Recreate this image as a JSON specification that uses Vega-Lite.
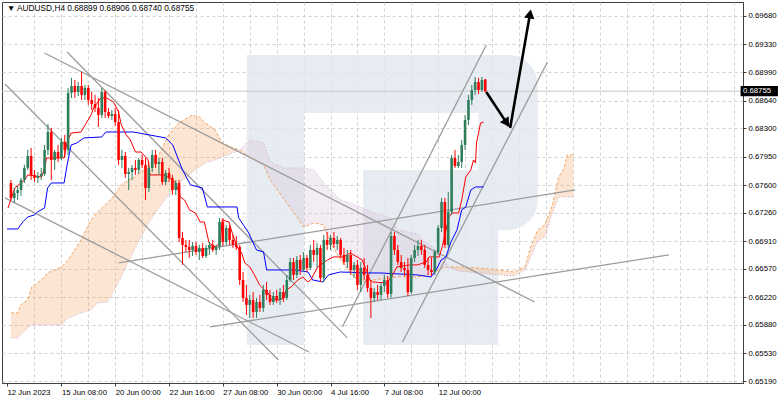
{
"$schema":"https://vega.github.io/schema/vega-lite/v6.json",
"width":741,"height":381,
"autosize":{"type":"none"},
"padding":{"left":2,"top":2,"right":39,"bottom":19},
"background":"white",
"title":{"text":"▼ AUDUSD,H4  0.68899 0.68906 0.68740 0.68755","anchor":"start","frame":"group","orient":"top","offset":-10,"dx":5,"font":"Liberation Sans","fontSize":8.3,"fontWeight":"normal","color":"#000000"},
"datasets":{
"candles":[
{"t":0,"o":0.67626,"h":0.67663,"l":0.67417,"c":0.67442},
{"t":1,"o":0.67442,"h":0.67565,"l":0.6738,"c":0.67503},
{"t":2,"o":0.67503,"h":0.67589,"l":0.67417,"c":0.6754},
{"t":3,"o":0.6754,"h":0.67688,"l":0.67466,"c":0.67663},
{"t":4,"o":0.67663,"h":0.67848,"l":0.67626,"c":0.67811},
{"t":5,"o":0.67811,"h":0.68032,"l":0.67786,"c":0.67958},
{"t":6,"o":0.67958,"h":0.68057,"l":0.67663,"c":0.67725},
{"t":7,"o":0.67725,"h":0.67786,"l":0.67638,"c":0.67688},
{"t":8,"o":0.67688,"h":0.67761,"l":0.67626,"c":0.67712},
{"t":9,"o":0.67712,"h":0.67811,"l":0.67663,"c":0.67737},
{"t":10,"o":0.67737,"h":0.68094,"l":0.67712,"c":0.68032},
{"t":11,"o":0.68032,"h":0.68352,"l":0.67971,"c":0.68253},
{"t":12,"o":0.68253,"h":0.68303,"l":0.67663,"c":0.67909},
{"t":13,"o":0.67909,"h":0.68032,"l":0.67786,"c":0.68007},
{"t":14,"o":0.68007,"h":0.68094,"l":0.67884,"c":0.67934},
{"t":15,"o":0.67934,"h":0.6818,"l":0.67909,"c":0.6813},
{"t":16,"o":0.6813,"h":0.68217,"l":0.67934,"c":0.68032},
{"t":17,"o":0.68032,"h":0.68795,"l":0.67971,"c":0.68733},
{"t":18,"o":0.68733,"h":0.68918,"l":0.68672,"c":0.68819},
{"t":19,"o":0.68819,"h":0.68893,"l":0.68672,"c":0.68745},
{"t":20,"o":0.68745,"h":0.68868,"l":0.68696,"c":0.68819},
{"t":21,"o":0.68819,"h":0.68991,"l":0.68647,"c":0.68709},
{"t":22,"o":0.68709,"h":0.68832,"l":0.68647,"c":0.68795},
{"t":23,"o":0.68795,"h":0.68832,"l":0.68586,"c":0.68647},
{"t":24,"o":0.68647,"h":0.68745,"l":0.68524,"c":0.68598},
{"t":25,"o":0.68598,"h":0.68709,"l":0.68499,"c":0.68549},
{"t":26,"o":0.68549,"h":0.68672,"l":0.68315,"c":0.68463},
{"t":27,"o":0.68463,"h":0.68795,"l":0.68426,"c":0.68745},
{"t":28,"o":0.68745,"h":0.6877,"l":0.68426,"c":0.68499},
{"t":29,"o":0.68499,"h":0.68549,"l":0.68426,"c":0.6845},
{"t":30,"o":0.6845,"h":0.68524,"l":0.68401,"c":0.68475},
{"t":31,"o":0.68475,"h":0.68549,"l":0.68327,"c":0.68376},
{"t":32,"o":0.68376,"h":0.68524,"l":0.67848,"c":0.67909},
{"t":33,"o":0.67909,"h":0.68032,"l":0.67811,"c":0.67958},
{"t":34,"o":0.67958,"h":0.68007,"l":0.67688,"c":0.67737},
{"t":35,"o":0.67737,"h":0.67811,"l":0.6754,"c":0.67761},
{"t":36,"o":0.67761,"h":0.67848,"l":0.67663,"c":0.67811},
{"t":37,"o":0.67811,"h":0.67909,"l":0.67725,"c":0.67786},
{"t":38,"o":0.67786,"h":0.67934,"l":0.67737,"c":0.67909},
{"t":39,"o":0.67909,"h":0.67971,"l":0.67811,"c":0.67848},
{"t":40,"o":0.67848,"h":0.67934,"l":0.67417,"c":0.67565},
{"t":41,"o":0.67565,"h":0.67848,"l":0.67515,"c":0.67811},
{"t":42,"o":0.67811,"h":0.68032,"l":0.67761,"c":0.67971},
{"t":43,"o":0.67971,"h":0.68032,"l":0.67811,"c":0.6786},
{"t":44,"o":0.6786,"h":0.67934,"l":0.67725,"c":0.67884},
{"t":45,"o":0.67884,"h":0.67934,"l":0.67602,"c":0.67638},
{"t":46,"o":0.67638,"h":0.67786,"l":0.67602,"c":0.67749},
{"t":47,"o":0.67749,"h":0.67811,"l":0.67638,"c":0.67688},
{"t":48,"o":0.67688,"h":0.67725,"l":0.67479,"c":0.6754},
{"t":49,"o":0.6754,"h":0.67663,"l":0.67479,"c":0.67626},
{"t":50,"o":0.67626,"h":0.67663,"l":0.669,"c":0.6695},
{"t":51,"o":0.6695,"h":0.67023,"l":0.66618,"c":0.66864},
{"t":52,"o":0.66864,"h":0.66925,"l":0.66777,"c":0.66839},
{"t":53,"o":0.66839,"h":0.66925,"l":0.66704,"c":0.66802},
{"t":54,"o":0.66802,"h":0.669,"l":0.66728,"c":0.66851},
{"t":55,"o":0.66851,"h":0.669,"l":0.66741,"c":0.66777},
{"t":56,"o":0.66777,"h":0.66864,"l":0.66679,"c":0.66827},
{"t":57,"o":0.66827,"h":0.66888,"l":0.66704,"c":0.66728},
{"t":58,"o":0.66728,"h":0.66864,"l":0.66704,"c":0.66827},
{"t":59,"o":0.66827,"h":0.669,"l":0.66741,"c":0.66864},
{"t":60,"o":0.66864,"h":0.66925,"l":0.66777,"c":0.66802},
{"t":61,"o":0.66802,"h":0.66864,"l":0.66741,"c":0.66839},
{"t":62,"o":0.66839,"h":0.67196,"l":0.66802,"c":0.67146},
{"t":63,"o":0.67146,"h":0.67196,"l":0.66851,"c":0.669},
{"t":64,"o":0.669,"h":0.6711,"l":0.66864,"c":0.67073},
{"t":65,"o":0.67073,"h":0.6711,"l":0.66864,"c":0.66925},
{"t":66,"o":0.66925,"h":0.66987,"l":0.66827,"c":0.66864},
{"t":67,"o":0.66864,"h":0.66974,"l":0.66802,"c":0.66839},
{"t":68,"o":0.66839,"h":0.66864,"l":0.66372,"c":0.66433},
{"t":69,"o":0.66433,"h":0.66531,"l":0.66162,"c":0.66212},
{"t":70,"o":0.66212,"h":0.66372,"l":0.66003,"c":0.66126},
{"t":71,"o":0.66126,"h":0.66249,"l":0.65966,"c":0.66187},
{"t":72,"o":0.66187,"h":0.66285,"l":0.65966,"c":0.66039},
{"t":73,"o":0.66039,"h":0.66212,"l":0.65966,"c":0.66162},
{"t":74,"o":0.66162,"h":0.66249,"l":0.66039,"c":0.66089},
{"t":75,"o":0.66089,"h":0.66372,"l":0.66039,"c":0.6631},
{"t":76,"o":0.6631,"h":0.66408,"l":0.66187,"c":0.66249},
{"t":77,"o":0.66249,"h":0.6631,"l":0.66126,"c":0.66162},
{"t":78,"o":0.66162,"h":0.66285,"l":0.66126,"c":0.66236},
{"t":79,"o":0.66236,"h":0.6631,"l":0.6615,"c":0.66187},
{"t":80,"o":0.66187,"h":0.66335,"l":0.66126,"c":0.66285},
{"t":81,"o":0.66285,"h":0.66372,"l":0.66162,"c":0.66212},
{"t":82,"o":0.66212,"h":0.66495,"l":0.66187,"c":0.66433},
{"t":83,"o":0.66433,"h":0.66704,"l":0.66408,"c":0.66654},
{"t":84,"o":0.66654,"h":0.66704,"l":0.66433,"c":0.66495},
{"t":85,"o":0.66495,"h":0.66728,"l":0.66458,"c":0.66679},
{"t":86,"o":0.66679,"h":0.66741,"l":0.66495,"c":0.66556},
{"t":87,"o":0.66556,"h":0.66777,"l":0.66531,"c":0.66704},
{"t":88,"o":0.66704,"h":0.66741,"l":0.66531,"c":0.66581},
{"t":89,"o":0.66581,"h":0.66864,"l":0.66556,"c":0.66802},
{"t":90,"o":0.66802,"h":0.66925,"l":0.66654,"c":0.66741},
{"t":91,"o":0.66741,"h":0.66888,"l":0.66581,"c":0.66827},
{"t":92,"o":0.66827,"h":0.66864,"l":0.66408,"c":0.66458},
{"t":93,"o":0.66458,"h":0.66987,"l":0.66408,"c":0.66925},
{"t":94,"o":0.66925,"h":0.67023,"l":0.66802,"c":0.66864},
{"t":95,"o":0.66864,"h":0.66987,"l":0.66802,"c":0.6695},
{"t":96,"o":0.6695,"h":0.67023,"l":0.66827,"c":0.66876},
{"t":97,"o":0.66876,"h":0.66974,"l":0.66802,"c":0.66925},
{"t":98,"o":0.66925,"h":0.6695,"l":0.66704,"c":0.66741},
{"t":99,"o":0.66741,"h":0.66827,"l":0.66618,"c":0.66654},
{"t":100,"o":0.66654,"h":0.66802,"l":0.66581,"c":0.66741},
{"t":101,"o":0.66741,"h":0.66802,"l":0.66495,"c":0.66556},
{"t":102,"o":0.66556,"h":0.66654,"l":0.66458,"c":0.66618},
{"t":103,"o":0.66618,"h":0.66679,"l":0.6631,"c":0.66372},
{"t":104,"o":0.66372,"h":0.66654,"l":0.66285,"c":0.66581},
{"t":105,"o":0.66581,"h":0.66704,"l":0.66433,"c":0.66495},
{"t":106,"o":0.66495,"h":0.66618,"l":0.66285,"c":0.66335},
{"t":107,"o":0.66335,"h":0.66433,"l":0.65966,"c":0.66212},
{"t":108,"o":0.66212,"h":0.66335,"l":0.66162,"c":0.66285},
{"t":109,"o":0.66285,"h":0.66372,"l":0.66187,"c":0.66249},
{"t":110,"o":0.66249,"h":0.66396,"l":0.66187,"c":0.66359},
{"t":111,"o":0.66359,"h":0.66495,"l":0.66285,"c":0.66433},
{"t":112,"o":0.66433,"h":0.66482,"l":0.66212,"c":0.66261},
{"t":113,"o":0.66261,"h":0.67023,"l":0.66212,"c":0.66974},
{"t":114,"o":0.66974,"h":0.67023,"l":0.66741,"c":0.66802},
{"t":115,"o":0.66802,"h":0.66864,"l":0.66618,"c":0.66654},
{"t":116,"o":0.66654,"h":0.66741,"l":0.66531,"c":0.66581},
{"t":117,"o":0.66581,"h":0.66654,"l":0.66482,"c":0.66556},
{"t":118,"o":0.66556,"h":0.66704,"l":0.66236,"c":0.66285},
{"t":119,"o":0.66285,"h":0.66741,"l":0.66261,"c":0.66704},
{"t":120,"o":0.66704,"h":0.66864,"l":0.66654,"c":0.66802},
{"t":121,"o":0.66802,"h":0.66925,"l":0.66728,"c":0.66851},
{"t":122,"o":0.66851,"h":0.66925,"l":0.66741,"c":0.66802},
{"t":123,"o":0.66802,"h":0.66864,"l":0.66581,"c":0.66618},
{"t":124,"o":0.66618,"h":0.66704,"l":0.66495,"c":0.66556},
{"t":125,"o":0.66556,"h":0.66704,"l":0.66482,"c":0.66531},
{"t":126,"o":0.66531,"h":0.66802,"l":0.66495,"c":0.66777},
{"t":127,"o":0.66777,"h":0.6711,"l":0.66741,"c":0.67073},
{"t":128,"o":0.67073,"h":0.67442,"l":0.67023,"c":0.67392},
{"t":129,"o":0.67392,"h":0.67442,"l":0.66827,"c":0.66864},
{"t":130,"o":0.66864,"h":0.67515,"l":0.66827,"c":0.67269},
{"t":131,"o":0.67269,"h":0.67971,"l":0.67233,"c":0.67934},
{"t":132,"o":0.67934,"h":0.68032,"l":0.67811,"c":0.67835},
{"t":133,"o":0.67835,"h":0.67971,"l":0.67811,"c":0.67884},
{"t":134,"o":0.67884,"h":0.68155,"l":0.67811,"c":0.68094},
{"t":135,"o":0.68094,"h":0.68463,"l":0.68032,"c":0.68401},
{"t":136,"o":0.68401,"h":0.68709,"l":0.6834,"c":0.68647},
{"t":137,"o":0.68647,"h":0.68832,"l":0.68586,"c":0.6877},
{"t":138,"o":0.6877,"h":0.6893,"l":0.68709,"c":0.68868},
{"t":139,"o":0.68868,"h":0.68918,"l":0.68721,"c":0.6877},
{"t":140,"o":0.6877,"h":0.6893,"l":0.68745,"c":0.68893},
{"t":141,"o":0.68899,"h":0.68906,"l":0.6874,"c":0.68755}
],
"ichi":[
{"s":"T","t":-0.88,"v":0.67319},{"s":"T","t":1.17,"v":0.67565},{"s":"T","t":4.1,"v":0.67663},{"s":"T","t":5.0,"v":0.67725},{"s":"T","t":9.1,"v":0.677},{"s":"T","t":10.0,"v":0.67811},{"s":"T","t":10.6,"v":0.67934},{"s":"T","t":15.8,"v":0.67934},{"s":"T","t":16.7,"v":0.6813},{"s":"T","t":17.9,"v":0.68241},{"s":"T","t":20.8,"v":0.68253},{"s":"T","t":21.7,"v":0.68315},{"s":"T","t":22.6,"v":0.68376},{"s":"T","t":23.8,"v":0.68463},{"s":"T","t":24.6,"v":0.68549},{"s":"T","t":26.7,"v":0.68672},{"s":"T","t":28.4,"v":0.68672},{"s":"T","t":30.5,"v":0.68622},{"s":"T","t":32.0,"v":0.68499},{"s":"T","t":32.8,"v":0.6834},{"s":"T","t":34.3,"v":0.68217},{"s":"T","t":35.5,"v":0.68155},{"s":"T","t":37.0,"v":0.68007},{"s":"T","t":38.7,"v":0.68007},{"s":"T","t":40.8,"v":0.67909},{"s":"T","t":41.3,"v":0.67725},{"s":"T","t":45.2,"v":0.67725},{"s":"T","t":47.2,"v":0.67688},{"s":"T","t":49.0,"v":0.67626},{"s":"T","t":50.4,"v":0.67454},{"s":"T","t":51.6,"v":0.67417},{"s":"T","t":53.1,"v":0.67294},{"s":"T","t":54.8,"v":0.67257},{"s":"T","t":56.3,"v":0.67146},{"s":"T","t":57.5,"v":0.67146},{"s":"T","t":58.9,"v":0.66888},{"s":"T","t":60.7,"v":0.66839},{"s":"T","t":62.2,"v":0.66888},{"s":"T","t":62.8,"v":0.67171},{"s":"T","t":64.8,"v":0.67146},{"s":"T","t":65.7,"v":0.67023},{"s":"T","t":67.2,"v":0.66839},{"s":"T","t":68.6,"v":0.66765},{"s":"T","t":69.5,"v":0.66642},{"s":"T","t":71.0,"v":0.66593},{"s":"T","t":72.4,"v":0.66495},{"s":"T","t":73.9,"v":0.66372},{"s":"T","t":75.4,"v":0.6631},{"s":"T","t":76.5,"v":0.66273},{"s":"T","t":77.4,"v":0.66187},{"s":"T","t":79.8,"v":0.66187},{"s":"T","t":81.2,"v":0.66212},{"s":"T","t":81.8,"v":0.6631},{"s":"T","t":83.3,"v":0.66347},{"s":"T","t":85.3,"v":0.66433},{"s":"T","t":86.8,"v":0.6647},{"s":"T","t":88.3,"v":0.66408},{"s":"T","t":89.1,"v":0.66433},{"s":"T","t":91.2,"v":0.66593},{"s":"T","t":94.1,"v":0.66679},{"s":"T","t":95.9,"v":0.66716},{"s":"T","t":98.8,"v":0.66716},{"s":"T","t":100.9,"v":0.66765},{"s":"T","t":102.9,"v":0.66716},{"s":"T","t":104.4,"v":0.66679},{"s":"T","t":105.9,"v":0.66531},{"s":"T","t":106.7,"v":0.66433},{"s":"T","t":107.6,"v":0.66408},{"s":"T","t":111.7,"v":0.66396},{"s":"T","t":113.2,"v":0.6647},{"s":"T","t":114.7,"v":0.66593},{"s":"T","t":118.5,"v":0.66618},{"s":"T","t":120.8,"v":0.66618},{"s":"T","t":123.5,"v":0.66654},{"s":"T","t":124.3,"v":0.66716},{"s":"T","t":127.3,"v":0.66716},{"s":"T","t":128.2,"v":0.66839},{"s":"T","t":130.2,"v":0.67208},{"s":"T","t":131.1,"v":0.67257},{"s":"T","t":133.1,"v":0.67257},{"s":"T","t":134.0,"v":0.67417},{"s":"T","t":135.2,"v":0.677},{"s":"T","t":136.7,"v":0.67786},{"s":"T","t":137.5,"v":0.67909},{"s":"T","t":138.1,"v":0.67872},{"s":"T","t":138.4,"v":0.68118},{"s":"T","t":139.6,"v":0.68364},{"s":"T","t":140.5,"v":0.68376},
{"s":"K","t":-1.17,"v":0.6706},{"s":"K","t":2.05,"v":0.6706},{"s":"K","t":3.5,"v":0.67146},{"s":"K","t":5.0,"v":0.67208},{"s":"K","t":7.0,"v":0.67233},{"s":"K","t":7.9,"v":0.67269},{"s":"K","t":10.0,"v":0.67319},{"s":"K","t":10.9,"v":0.67565},{"s":"K","t":12.0,"v":0.67626},{"s":"K","t":15.8,"v":0.67626},{"s":"K","t":16.7,"v":0.67848},{"s":"K","t":17.9,"v":0.68094},{"s":"K","t":19.6,"v":0.68118},{"s":"K","t":21.7,"v":0.6818},{"s":"K","t":27.0,"v":0.68192},{"s":"K","t":28.2,"v":0.68253},{"s":"K","t":36.4,"v":0.68253},{"s":"K","t":46.0,"v":0.6818},{"s":"K","t":48.1,"v":0.68094},{"s":"K","t":49.6,"v":0.67934},{"s":"K","t":51.0,"v":0.67786},{"s":"K","t":53.4,"v":0.67602},{"s":"K","t":56.9,"v":0.67565},{"s":"K","t":58.4,"v":0.67331},{"s":"K","t":67.2,"v":0.67331},{"s":"K","t":67.7,"v":0.67196},{"s":"K","t":70.7,"v":0.67011},{"s":"K","t":71.6,"v":0.66925},{"s":"K","t":73.0,"v":0.66802},{"s":"K","t":75.1,"v":0.66777},{"s":"K","t":76.0,"v":0.66556},{"s":"K","t":84.2,"v":0.66556},{"s":"K","t":88.3,"v":0.66531},{"s":"K","t":89.7,"v":0.66433},{"s":"K","t":92.7,"v":0.66408},{"s":"K","t":94.4,"v":0.66495},{"s":"K","t":97.9,"v":0.66531},{"s":"K","t":106.7,"v":0.66519},{"s":"K","t":109.7,"v":0.66519},{"s":"K","t":120.8,"v":0.66495},{"s":"K","t":124.9,"v":0.6647},{"s":"K","t":126.4,"v":0.66556},{"s":"K","t":127.9,"v":0.66679},{"s":"K","t":129.3,"v":0.66716},{"s":"K","t":130.8,"v":0.669},{"s":"K","t":132.6,"v":0.67048},{"s":"K","t":134.0,"v":0.67294},{"s":"K","t":135.2,"v":0.67331},{"s":"K","t":136.7,"v":0.6754},{"s":"K","t":138.1,"v":0.67577},{"s":"K","t":140.5,"v":0.67577}
],
"cloud":[
{"seg":"b1","k":"bull","t":0,"a":0.66027,"b":0.6572},{"seg":"b1","k":"bull","t":2.05,"a":0.66027,"b":0.6572},{"seg":"b1","k":"bull","t":2.9,"a":0.66126,"b":0.65757},{"seg":"b1","k":"bull","t":5,"a":0.66187,"b":0.65843},{"seg":"b1","k":"bull","t":6.2,"a":0.66347,"b":0.6588},{"seg":"b1","k":"bull","t":9.1,"a":0.66433,"b":0.6588},{"seg":"b1","k":"bull","t":10.9,"a":0.66519,"b":0.6588},{"seg":"b1","k":"bull","t":15,"a":0.66593,"b":0.6588},{"seg":"b1","k":"bull","t":17,"a":0.66679,"b":0.65966},{"seg":"b1","k":"bull","t":20.8,"a":0.66925,"b":0.66027},{"seg":"b1","k":"bull","t":23.8,"a":0.67171,"b":0.66064},{"seg":"b1","k":"bull","t":25.8,"a":0.67269,"b":0.6615},{"seg":"b1","k":"bull","t":28.7,"a":0.6738,"b":0.66162},{"seg":"b1","k":"bull","t":30.8,"a":0.67479,"b":0.6631},{"seg":"b1","k":"bull","t":32.8,"a":0.67602,"b":0.6647},{"seg":"b1","k":"bull","t":34.9,"a":0.67663,"b":0.66654},{"seg":"b1","k":"bull","t":37,"a":0.677,"b":0.66827},{"seg":"b1","k":"bull","t":41.1,"a":0.67872,"b":0.67146},{"seg":"b1","k":"bull","t":44,"a":0.67971,"b":0.67319},{"seg":"b1","k":"bull","t":46.9,"a":0.68217,"b":0.67479},{"seg":"b1","k":"bull","t":49.9,"a":0.68364,"b":0.67626},{"seg":"b1","k":"bull","t":54,"a":0.68463,"b":0.67761},{"seg":"b1","k":"bull","t":56,"a":0.68438,"b":0.67823},{"seg":"b1","k":"bull","t":57.8,"a":0.68364,"b":0.67872},{"seg":"b1","k":"bull","t":60.7,"a":0.68278,"b":0.67909},{"seg":"b1","k":"bull","t":62.8,"a":0.68118,"b":0.67946},{"seg":"b1","k":"bull","t":66,"a":0.68057,"b":0.67995},{"seg":"b1","k":"bull","t":68,"a":0.68032,"b":0.68032},
{"seg":"r1","k":"bear","t":68,"a":0.68032,"b":0.68032},{"seg":"r1","k":"bear","t":71,"a":0.67946,"b":0.68155},{"seg":"r1","k":"bear","t":75.1,"a":0.67848,"b":0.68118},{"seg":"r1","k":"bear","t":77.1,"a":0.67663,"b":0.67884},{"seg":"r1","k":"bear","t":80.9,"a":0.67442,"b":0.67811},{"seg":"r1","k":"bear","t":84.2,"a":0.67257,"b":0.67811},{"seg":"r1","k":"bear","t":87.1,"a":0.67085,"b":0.67811},{"seg":"r1","k":"bear","t":90,"a":0.67134,"b":0.67786},{"seg":"r1","k":"bear","t":93,"a":0.6711,"b":0.67626},{"seg":"r1","k":"bear","t":95,"a":0.66888,"b":0.6754},{"seg":"r1","k":"bear","t":98,"a":0.66679,"b":0.67417},{"seg":"r1","k":"bear","t":100.9,"a":0.66519,"b":0.6738},{"seg":"r1","k":"bear","t":103.8,"a":0.66408,"b":0.67331},{"seg":"r1","k":"bear","t":107.9,"a":0.66433,"b":0.67257},{"seg":"r1","k":"bear","t":112.9,"a":0.66458,"b":0.67196},{"seg":"r1","k":"bear","t":115,"a":0.6647,"b":0.67048},{"seg":"r1","k":"bear","t":120.8,"a":0.6647,"b":0.66999},{"seg":"r1","k":"bear","t":122.9,"a":0.66482,"b":0.669},{"seg":"r1","k":"bear","t":125.8,"a":0.66519,"b":0.66827},{"seg":"r1","k":"bear","t":128.2,"a":0.66581,"b":0.66704},{"seg":"r1","k":"bear","t":129.9,"a":0.66593,"b":0.66593},
{"seg":"b2","k":"bull","t":129.9,"a":0.66593,"b":0.66593},{"seg":"b2","k":"bull","t":133.1,"a":0.66593,"b":0.66544},{"seg":"b2","k":"bull","t":139,"a":0.66581,"b":0.66519},{"seg":"b2","k":"bull","t":144.9,"a":0.66556,"b":0.66495},{"seg":"b2","k":"bull","t":149.6,"a":0.66531,"b":0.66482},{"seg":"b2","k":"bull","t":152.8,"a":0.66593,"b":0.66556},{"seg":"b2","k":"bull","t":154.5,"a":0.66839,"b":0.66716},{"seg":"b2","k":"bull","t":156.6,"a":0.67048,"b":0.66913},{"seg":"b2","k":"bull","t":158.7,"a":0.6711,"b":0.66962},{"seg":"b2","k":"bull","t":161,"a":0.67355,"b":0.67257},{"seg":"b2","k":"bull","t":162.8,"a":0.677,"b":0.67454},{"seg":"b2","k":"bull","t":164.2,"a":0.67786,"b":0.67454},{"seg":"b2","k":"bull","t":165.4,"a":0.67971,"b":0.67454},{"seg":"b2","k":"bull","t":167.2,"a":0.67971,"b":0.67454}
],
"lines":[
{"id":"L1","t":9.97,"p":0.69225},{"id":"L1","t":155.7,"p":0.66162},
{"id":"Q","t":16.7,"p":0.69237},{"id":"Q","t":100.0,"p":0.6572},
{"id":"P","t":-1.76,"p":0.68844},{"id":"P","t":79.5,"p":0.65449},
{"id":"R","t":-1.76,"p":0.67442},{"id":"R","t":88.6,"p":0.65547},
{"id":"A1","t":98.5,"p":0.65855},{"id":"A1","t":141.3,"p":0.69324},
{"id":"A2","t":116.4,"p":0.6567},{"id":"A2","t":159.5,"p":0.69114},
{"id":"H1","t":32.0,"p":0.66642},{"id":"H1","t":167.7,"p":0.6754},
{"id":"H2","t":59.2,"p":0.65855},{"id":"H2","t":195.6,"p":0.66741}
],
"arrows":[
{"id":"a1","t":141.3,"p":0.68745},{"id":"a1","t":148.0,"p":0.68325},
{"id":"a2","t":148.4,"p":0.68303},{"id":"a2","t":154.3,"p":0.69706}
],
"heads":[
{"id":"h1","t":147.4,"p":0.68364},
{"id":"h2","t":154.3,"p":0.69706}
],
"wm":[
{"k":"stem","t1":70.09,"t2":87.1,"p1":0.692,"p2":0.65634},
{"k":"top","t1":87.1,"t2":139.0,"p1":0.692,"p2":0.68487},
{"k":"bowl","t1":139.0,"t2":156.6,"p1":0.692,"p2":0.67048},
{"k":"bb","t1":104.69,"t2":139.0,"p1":0.67786,"p2":0.67048},
{"k":"leg","t1":104.69,"t2":144.87,"p1":0.67048,"p2":0.65634}
],
"last":[{"p":0.68755}]
},
"layer":[
{"data":{"name":"wm"},"transform":[{"filter":"datum.k != 'bowl'"}],
 "mark":{"type":"rect","color":"#e1e7f0","opacity":0.8},
 "encoding":{
  "x":{"field":"t1","type":"quantitative","scale":{"domain":[-1.17,216.13],"zero":false,"nice":false},
   "axis":{"title":null,"tickCount":60,"values":[-1.17,7,15,23,31,39,47,55,63,71,79,87,95,103,111,119,127,135,143,151,159,167,175,183,191,199,207,215],
    "labelExpr":"datum.value < 0 ? '12 Jun 2023' : datum.value == 15 ? '15 Jun 08:00' : datum.value == 31 ? '20 Jun 00:00' : datum.value == 47 ? '22 Jun 16:00' : datum.value == 63 ? '27 Jun 08:00' : datum.value == 79 ? '30 Jun 00:00' : datum.value == 95 ? '4 Jul 16:00' : datum.value == 111 ? '7 Jul 08:00' : datum.value == 127 ? '12 Jul 00:00' : ''",
    "labelAlign":"left","labelPadding":2,"tickSize":3,"grid":true,"gridDash":[3,3],"gridColor":"#d0d0d0",
    "gridOpacity":{"condition":{"test":"datum.value < 0","value":0},"value":1},
    "tickOpacity":{"condition":{"test":"datum.value < 0 || ((datum.value + 1) % 16 == 0 && datum.value < 130)","value":1},"value":0},
    "labelFlush":false,"labelOverlap":false,"labelBound":false}},
  "x2":{"field":"t2"},
  "y":{"field":"p1","type":"quantitative","scale":{"domain":[0.651654,0.698522],"zero":false,"nice":false},
   "axis":{"title":null,"orient":"right","tickCount":40,"values":[0.6519,0.6553,0.6588,0.6622,0.6657,0.6691,0.6726,0.676,0.6795,0.683,0.6864,0.6899,0.6933,0.6968],
    "format":".5f","tickSize":3,"labelPadding":2,"grid":true,"gridDash":[3,3],"gridColor":"#d0d0d0","labelFlush":false,"labelOverlap":false,"labelSeparation":0,"labelBound":false}},
  "y2":{"field":"p2"}}},
{"data":{"name":"wm"},"transform":[{"filter":"datum.k == 'bowl'"}],
 "mark":{"type":"rect","color":"#e1e7f0","opacity":0.8,"cornerRadiusTopRight":45,"cornerRadiusBottomRight":45},
 "encoding":{"x":{"field":"t1","type":"quantitative","title":null},"x2":{"field":"t2"},"y":{"field":"p1","type":"quantitative","title":null},"y2":{"field":"p2"}}},
{"data":{"name":"cloud"},"transform":[{"filter":"datum.k == 'bull'"}],
 "mark":{"type":"area","color":"#f4a460","opacity":0.28},
 "encoding":{"x":{"field":"t","type":"quantitative","title":null},"y":{"field":"a","type":"quantitative","title":null},"y2":{"field":"b"},"detail":{"field":"seg"}}},
{"data":{"name":"cloud"},"transform":[{"filter":"datum.k == 'bear'"}],
 "mark":{"type":"area","color":"#d8bfd8","opacity":0.3},
 "encoding":{"x":{"field":"t","type":"quantitative","title":null},"y":{"field":"a","type":"quantitative","title":null},"y2":{"field":"b"},"detail":{"field":"seg"}}},
{"data":{"name":"cloud"},
 "mark":{"type":"line","color":"#f4a460","strokeWidth":1,"strokeDash":[3,2]},
 "encoding":{"x":{"field":"t","type":"quantitative","title":null},"y":{"field":"a","type":"quantitative","title":null}}},
{"data":{"name":"cloud"},
 "mark":{"type":"line","color":"#c9a9d6","strokeWidth":1,"strokeDash":[1,2]},
 "encoding":{"x":{"field":"t","type":"quantitative","title":null},"y":{"field":"b","type":"quantitative","title":null}}},
{"data":{"name":"last"},
 "mark":{"type":"rule","color":"#c8c8c8","strokeWidth":1},
 "encoding":{"y":{"field":"p","type":"quantitative","title":null}}},
{"data":{"name":"lines"},
 "mark":{"type":"line","color":"#9c9c9c","strokeWidth":1.3,"clip":true},
 "encoding":{"x":{"field":"t","type":"quantitative","title":null},"y":{"field":"p","type":"quantitative","title":null},"detail":{"field":"id"}}},
{"data":{"name":"ichi"},"transform":[{"filter":"datum.s == 'K'"}],
 "mark":{"type":"line","strokeWidth":1,"color":"#0000ff","clip":true},
 "encoding":{"x":{"field":"t","type":"quantitative","title":null},"y":{"field":"v","type":"quantitative","title":null}}},
{"data":{"name":"ichi"},"transform":[{"filter":"datum.s == 'T'"}],
 "mark":{"type":"line","strokeWidth":1,"color":"#ff0000","clip":true},
 "encoding":{"x":{"field":"t","type":"quantitative","title":null},"y":{"field":"v","type":"quantitative","title":null}}},
{"data":{"name":"candles"},
 "mark":{"type":"rule","strokeWidth":1},
 "encoding":{"x":{"field":"t","type":"quantitative","title":null},"y":{"field":"l","type":"quantitative","title":null},"y2":{"field":"h"},
  "color":{"condition":{"test":"datum.c >= datum.o","value":"#2e7d5b"},"value":"#ff0000"}}},
{"data":{"name":"candles"},
 "mark":{"type":"bar","width":2.6},
 "encoding":{"x":{"field":"t","type":"quantitative","title":null},"y":{"field":"o","type":"quantitative","title":null},"y2":{"field":"c"},
  "color":{"condition":{"test":"datum.c >= datum.o","value":"#2e7d5b"},"value":"#ff0000"}}},
{"data":{"name":"arrows"},
 "mark":{"type":"line","color":"#000000","strokeWidth":2.6},
 "encoding":{"x":{"field":"t","type":"quantitative","title":null},"y":{"field":"p","type":"quantitative","title":null},"detail":{"field":"id"}}},
{"data":{"name":"heads"},"transform":[{"filter":"datum.id == 'h1'"}],
 "mark":{"type":"point","shape":"triangle-up","filled":true,"color":"#000000","opacity":1,"size":110,"angle":146},
 "encoding":{"x":{"field":"t","type":"quantitative","title":null},"y":{"field":"p","type":"quantitative","title":null}}},
{"data":{"name":"heads"},"transform":[{"filter":"datum.id == 'h2'"}],
 "mark":{"type":"point","shape":"triangle-up","filled":true,"color":"#000000","opacity":1,"size":110,"angle":10},
 "encoding":{"x":{"field":"t","type":"quantitative","title":null},"y":{"field":"p","type":"quantitative","title":null}}},
{"data":{"name":"last"},
 "mark":{"type":"rect","color":"#000000","clip":false},
 "encoding":{"x":{"datum":216.9},"x2":{"datum":228},"y":{"datum":0.68819},"y2":{"datum":0.68692}}},
{"data":{"name":"last"},
 "mark":{"type":"text","color":"#ffffff","align":"left","baseline":"middle","font":"Liberation Sans","fontSize":7.8,"clip":false},
 "encoding":{"x":{"datum":217.6},"y":{"field":"p","type":"quantitative","title":null},"text":{"field":"p","type":"quantitative","format":".5f"}}}
],
"config":{
 "view":{"stroke":"#404040","strokeWidth":1},
 "axis":{"labelFont":"Liberation Sans","labelFontSize":7.8,"labelColor":"#000000","domainColor":"#404040","tickColor":"#404040","labelOverlap":false},
 "axisY":{"labelOverlap":false,"labelSeparation":0}
}
}
